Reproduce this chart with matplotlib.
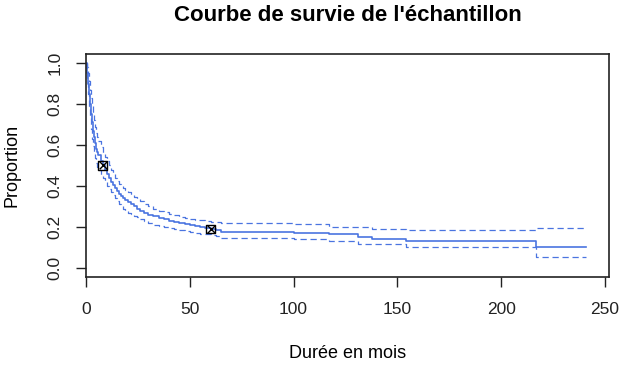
import matplotlib.pyplot as plt

plt.rcParams['font.family'] = ['Liberation Sans', 'DejaVu Sans']

# Kaplan-Meier estimate
times = [0, 0.5, 1, 1.5, 2, 2.5, 3, 3.5, 4, 4.5, 5, 5.5, 6, 7, 8, 9, 10, 11, 12,
         13, 14, 15, 16, 17, 18, 19, 20, 21.5, 23, 24.5, 26, 28, 30, 32.5, 35,
         37.5, 40, 42.5, 45, 47.5, 50, 52.5, 55, 57.5, 60, 62.5, 65, 100, 117,
         131, 138, 154, 217]
surv = [1.0, 0.95, 0.90, 0.85, 0.80, 0.75, 0.71, 0.67, 0.64, 0.61, 0.58, 0.565,
        0.55, 0.52, 0.50, 0.48, 0.46, 0.44, 0.42, 0.405, 0.39, 0.375, 0.36, 0.35,
        0.34, 0.33, 0.32, 0.31, 0.30, 0.29, 0.28, 0.27, 0.26, 0.252, 0.245,
        0.237, 0.23, 0.225, 0.22, 0.215, 0.21, 0.205, 0.20, 0.195, 0.19, 0.183,
        0.177, 0.169, 0.164, 0.150, 0.143, 0.133, 0.104]
upper = [1.0, 0.98, 0.95, 0.91, 0.87, 0.83, 0.79, 0.755, 0.72, 0.69, 0.66,
         0.64, 0.62, 0.59, 0.56, 0.54, 0.52, 0.50, 0.48, 0.46, 0.44, 0.425,
         0.41, 0.40, 0.39, 0.38, 0.37, 0.357, 0.345, 0.335, 0.325, 0.312, 0.30,
         0.29, 0.28, 0.272, 0.265, 0.257, 0.25, 0.245, 0.24, 0.236, 0.232,
         0.229, 0.226, 0.222, 0.218, 0.213, 0.2015, 0.2015, 0.19, 0.184, 0.193]
lower = [1.0, 0.92, 0.85, 0.79, 0.73, 0.68, 0.63, 0.595, 0.56, 0.535, 0.51,
         0.495, 0.48, 0.45, 0.44, 0.42, 0.40, 0.385, 0.37, 0.355, 0.34, 0.325,
         0.31, 0.30, 0.29, 0.28, 0.27, 0.262, 0.255, 0.247, 0.24, 0.23, 0.22,
         0.212, 0.205, 0.2, 0.195, 0.19, 0.185, 0.18, 0.175, 0.171, 0.168,
         0.164, 0.161, 0.155, 0.148, 0.140, 0.130, 0.116, 0.116, 0.104, 0.052]
t_end = 241

# highlighted points
mark_t = [8, 60]
mark_s = [0.50, 0.19]

xticks = [0, 50, 100, 150, 200, 250]
yticks = [0.0, 0.2, 0.4, 0.6, 0.8, 1.0]

W, H = 619, 377
fig = plt.figure(figsize=(W / 100, H / 100), dpi=100)
ax = fig.add_axes([86 / W, 1 - 277 / H, (609 - 86) / W, (277 - 54) / H])

col = '#4a74e0'
ax.step(times + [t_end], surv + [surv[-1]], where='post', color=col, lw=1.2)
ax.step(times + [t_end], upper + [upper[-1]], where='post', color=col, lw=0.9,
        ls=(0, (5, 3)))
ax.step(times + [t_end], lower + [lower[-1]], where='post', color=col, lw=0.9,
        ls=(0, (5, 3)))

ax.scatter(mark_t, mark_s, marker='s', s=40, facecolors='none',
           edgecolors='black', lw=1, zorder=5)
ax.scatter(mark_t, mark_s, marker='x', s=30, color='black', lw=1, zorder=5)

ax.set_xlim(0, 252)
ax.set_ylim(-0.044, 1.044)
ax.set_xticks(xticks)
ax.set_yticks(yticks)
ax.set_xticklabels([str(v) for v in xticks])
ax.set_yticklabels(['%.1f' % v for v in yticks], rotation=90, va='center')
ax.tick_params(length=7, width=1, labelsize=12.5, colors='#222222')
ax.tick_params(axis='x', pad=11)
ax.tick_params(axis='y', pad=10)
for s in ax.spines.values():
    s.set_linewidth(1.2)
    s.set_color('#222222')

ax.set_title("Courbe de survie de l'échantillon", fontsize=16, fontweight='bold',
             pad=24)
ax.set_xlabel('Durée en mois', fontsize=13, labelpad=20)
ax.set_ylabel('Proportion', fontsize=13)
ax.yaxis.set_label_coords(-0.125, 0.5)

fig.savefig('out.png', dpi=100)
